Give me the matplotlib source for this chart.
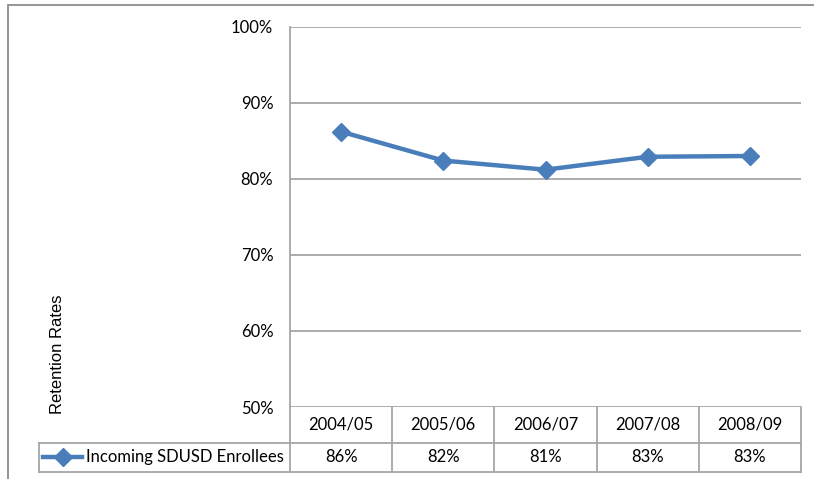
import matplotlib
matplotlib.use("Agg")
import matplotlib.pyplot as plt
from matplotlib.lines import Line2D
from matplotlib.patches import Rectangle
import matplotlib.transforms as mtransforms

# Retention rates of incoming SDUSD enrollees by school year
years = ["2004/05", "2005/06", "2006/07", "2007/08", "2008/09"]
retention = [0.862, 0.824, 0.812, 0.829, 0.830]
series_name = "Incoming SDUSD Enrollees"
y_ticks = [0.5, 0.6, 0.7, 0.8, 0.9, 1.0]

W, H = 814, 479
BLUE = "#4A7EBB"
GRID = "#A6A6A6"
TXT_FONT = "Lato"

fig = plt.figure(figsize=(W / 100, H / 100), dpi=100)
ax = fig.add_axes([290 / W, 1 - 407 / H, (801 - 290) / W, (407 - 26.7) / H])

x = list(range(len(years)))
ax.plot(x, retention, color=BLUE, lw=3.2, marker="D", markersize=9.5,
        markerfacecolor=BLUE, markeredgecolor=BLUE, zorder=3,
        solid_joinstyle="round")

ax.set_xlim(-0.5, len(years) - 0.5)
ax.set_ylim(0.5, 1.0)
ax.set_yticks(y_ticks)
ax.set_yticklabels([f"{t:.0%}" for t in y_ticks], fontfamily=TXT_FONT, fontsize=12)
ax.tick_params(axis="y", length=0, pad=12)
ax.set_xticks([])
ax.grid(axis="y", color=GRID, lw=1.3)
ax.set_axisbelow(True)
for s in ["top", "right", "bottom"]:
    ax.spines[s].set_visible(False)
ax.spines["left"].set_color(GRID)
ax.spines["left"].set_linewidth(1.3)

# data table under the plot: x in data units, y in axes fraction
trans = mtransforms.blended_transform_factory(ax.transData, ax.transAxes)
ax_h = 407 - 26.7
row1 = -(442.7 - 407) / ax_h
row2 = -(471.7 - 407) / ax_h

def hline(x0, x1, y, transform=trans):
    ax.add_line(Line2D([x0, x1], [y, y], transform=transform, color=GRID,
                       lw=1.3, clip_on=False))

def vline(xv, y0, y1, transform=trans):
    ax.add_line(Line2D([xv, xv], [y0, y1], transform=transform, color=GRID,
                       lw=1.3, clip_on=False))

for b in range(len(years) + 1):
    vline(b - 0.5, 0, row2)
hline(-0.5, len(years) - 0.5, row1)
hline(-0.5, len(years) - 0.5, row2)

for i, (yr, v) in enumerate(zip(years, retention)):
    ax.text(i, (0 + row1) / 2, yr, transform=trans, ha="center", va="center",
            fontfamily=TXT_FONT, fontsize=12)
    ax.text(i, (row1 + row2) / 2, f"{v:.0%}", transform=trans, ha="center",
            va="center", fontfamily=TXT_FONT, fontsize=12)

# legend key cell on the left of the value row
fx = lambda px: px / W
fy = lambda py: 1 - py / H
ft = fig.transFigure
fig.add_artist(Line2D([fx(39), fx(290)], [fy(442.7), fy(442.7)], transform=ft,
                      color=GRID, lw=1.3))
fig.add_artist(Line2D([fx(39), fx(290)], [fy(471.7), fy(471.7)], transform=ft,
                      color=GRID, lw=1.3))
fig.add_artist(Line2D([fx(39), fx(39)], [fy(442.7), fy(471.7)], transform=ft,
                      color=GRID, lw=1.3))
fig.add_artist(Line2D([fx(43), fx(82)], [fy(457), fy(457)], transform=ft,
                      color=BLUE, lw=3.2))
fig.add_artist(Line2D([fx(62.5)], [fy(457)], transform=ft, color=BLUE,
                      marker="D", markersize=9, lw=0))
fig.text(fx(86), fy(457), series_name, ha="left", va="center",
         fontfamily=TXT_FONT, fontsize=12)

# axis title
fig.text(fx(57), fy(354), "Retention Rates", rotation=90, ha="center",
         va="center", fontfamily="Liberation Sans", fontsize=12)

# chart frame
fig.add_artist(Rectangle((fx(8), fy(490)), fx(830), fy(5) - fy(490),
                         transform=ft, fill=False, edgecolor="#8C8C8C", lw=1.3))

fig.savefig("out.png", dpi=100)
